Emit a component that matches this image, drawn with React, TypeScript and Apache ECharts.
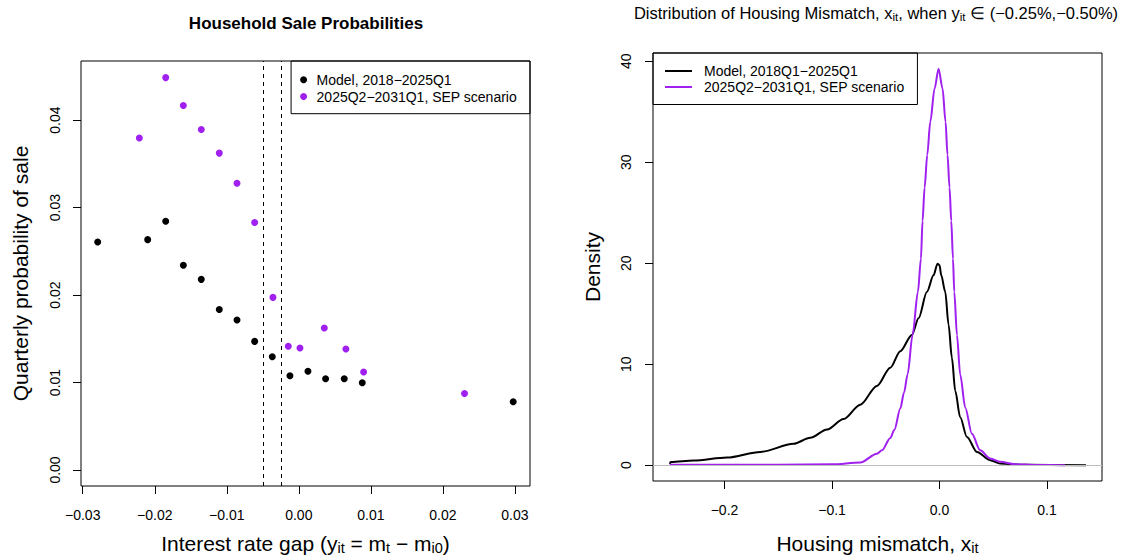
import React, { useEffect, useRef } from "react";
import * as echarts from "echarts";

const FONT = "'Liberation Sans', Arial, Helvetica, sans-serif";
const BLACK = "#000000";
const PURPLE = "#A020F0";
const GREY = "#BEBEBE";

// ---------- Left panel: household sale probabilities ----------
const modelGapX = [-0.02792, -0.02098, -0.01848, -0.01603, -0.01354, -0.01104, -0.00858, -0.00613, -0.00368, -0.00123, 0.00127, 0.00372, 0.00631, 0.00881, 0.02977];
const modelProb = [0.02606, 0.02633, 0.02843, 0.0234, 0.02179, 0.01834, 0.01714, 0.0147, 0.01294, 0.01077, 0.01129, 0.01043, 0.01043, 0.00998, 0.0078];
const sepGapX = [-0.02214, -0.01848, -0.01603, -0.01354, -0.01104, -0.00858, -0.00613, -0.00359, -0.00146, 0.00016, 0.00354, 0.00654, 0.009, 0.02301];
const sepProb = [0.03795, 0.04485, 0.04166, 0.03892, 0.03622, 0.03278, 0.02828, 0.01973, 0.01414, 0.01395, 0.01624, 0.01384, 0.01121, 0.00874];
const gapBounds = [-0.005, -0.0025];

const leftXTicks = [-0.03, -0.02, -0.01, 0, 0.01, 0.02, 0.03];
const leftXLabels = ["\u22120.03", "\u22120.02", "\u22120.01", "0.00", "0.01", "0.02", "0.03"];
const leftYTicks = [0, 0.01, 0.02, 0.03, 0.04];
const leftYLabels = ["0.00", "0.01", "0.02", "0.03", "0.04"];

// ---------- Right panel: density of housing mismatch ----------
const densModelX = [-0.2509, -0.25, -0.2286, -0.1976, -0.1666, -0.1357, -0.1202, -0.1046, -0.0892, -0.0737, -0.0582, -0.0458, -0.0365, -0.0257, -0.0195, -0.0117, -0.0056, -0.0019, 0.0, 0.0016, 0.0053, 0.0084, 0.0115, 0.0146, 0.0192, 0.0255, 0.0348, 0.0471, 0.0564, 0.08, 0.1362];
const densModelY = [0.12, 0.3, 0.45, 0.75, 1.31, 2.12, 2.71, 3.53, 4.57, 5.99, 7.85, 9.65, 11.29, 12.9, 14.55, 17.17, 18.8, 19.95, 19.8, 18.8, 17.17, 13.9, 10.63, 7.36, 4.75, 2.78, 1.31, 0.49, 0.16, 0.03, 0.0];
const densSepX = [-0.2509, -0.15, -0.1, -0.0737, -0.0582, -0.0535, -0.0458, -0.042, -0.0365, -0.033, -0.0297, -0.0251, -0.0201, -0.0173, -0.0158, -0.0139, -0.0114, -0.0086, -0.0046, -0.0009, 0.0028, 0.0056, 0.0074, 0.0093, 0.0109, 0.0125, 0.0137, 0.0162, 0.0192, 0.0239, 0.0301, 0.0378, 0.0471, 0.0564, 0.07, 0.09, 0.1167];
const densSepY = [0.05, 0.05, 0.08, 0.26, 1.14, 1.47, 2.7, 3.5, 5.6, 7.2, 8.99, 12.9, 17.17, 20.44, 24.2, 27.5, 30.75, 34.0, 37.3, 39.25, 37.3, 34.0, 30.75, 27.5, 24.2, 20.44, 17.17, 12.9, 8.99, 5.72, 3.1, 1.47, 0.65, 0.33, 0.1, 0.02, 0.0];

const rightXTicks = [-0.2, -0.1, 0, 0.1];
const rightXLabels = ["\u22120.2", "\u22120.1", "0.0", "0.1"];
const rightYTicks = [0, 10, 20, 30, 40];
const rightYLabels = ["0", "10", "20", "30", "40"];

const NAME_MODEL_L = "Model, 2018\u22122025Q1";
const NAME_MODEL_R = "Model, 2018Q1\u22122025Q1";
const NAME_SEP = "2025Q2\u22122031Q1, SEP scenario";

const LINE_ICON = "path://M0 0H27V2H0Z";

const pairs = (xs: number[], ys: number[]) => xs.map((x, i) => [x, ys[i]]);

const subRich = (size: number) => ({
  s: { fontSize: size, lineHeight: size, verticalAlign: "bottom", fontFamily: FONT, color: "#000" },
});

function makeAxis(
  gridIndex: number,
  min: number,
  max: number,
  ticks: number[],
  labels: string[],
  name: string,
  nameGap: number,
  labelMargin: number,
  isY: boolean
) {
  return {
    type: "value",
    gridIndex,
    min,
    max,
    name,
    nameLocation: "middle",
    nameGap,
    nameTextStyle: {
      fontSize: 21,
      lineHeight: 24,
      color: "#000",
      fontFamily: FONT,
      rich: subRich(14.5),
    },
    axisLine: { show: false, onZero: false },
    axisTick: {
      show: true,
      length: 8,
      customValues: ticks,
      lineStyle: { color: "#000", width: 1 },
    },
    axisLabel: {
      show: true,
      customValues: ticks,
      fontSize: 14,
      color: "#000",
      fontFamily: FONT,
      margin: labelMargin,
      rotate: isY ? 90 : 0,
      formatter: (v: number) => {
        const i = ticks.findIndex((t) => Math.abs(t - v) < 1e-9);
        return i >= 0 ? labels[i] : "";
      },
    },
    splitLine: { show: false },
  };
}

function buildOption() {
  return {
    animation: false,
    backgroundColor: "#ffffff",
    textStyle: { fontFamily: FONT, color: "#000" },
    graphic: [
      {
        type: "text",
        x: 306,
        y: 23,
        style: {
          text: "Household Sale Probabilities",
          fontSize: 17,
          fontWeight: "bold",
          fontFamily: FONT,
          fill: "#000",
          align: "center",
          verticalAlign: "middle",
        },
      },
      {
        type: "text",
        x: 876,
        y: 13,
        style: {
          text: "Distribution of Housing Mismatch, x{s|it}, when y{s|it} \u2208 (\u22120.25%,\u22120.50%)",
          fontSize: 16.5,
          lineHeight: 19,
          fontFamily: FONT,
          fill: "#000",
          align: "center",
          verticalAlign: "middle",
          rich: {
            s: { fontSize: 11.5, lineHeight: 11, verticalAlign: "bottom", fontFamily: FONT, fill: "#000" },
          },
        },
      },
    ],
    grid: [
      { left: 81, top: 61, width: 449, height: 432, show: true, borderColor: "#000", borderWidth: 1, backgroundColor: "transparent" },
      { left: 653, top: 53, width: 449, height: 431.5, show: true, borderColor: "#000", borderWidth: 1, backgroundColor: "transparent" },
    ],
    xAxis: [
      makeAxis(0, -0.03024, 0.0321, leftXTicks, leftXLabels, "Interest rate gap (y{s|it} = m{s|t} \u2212 m{s|i0})", 45, 22, false),
      makeAxis(1, -0.2665, 0.1511, rightXTicks, rightXLabels, "Housing mismatch, x{s|it}", 50, 22, false),
    ],
    yAxis: [
      makeAxis(0, -0.00183, 0.04675, leftYTicks, leftYLabels, "Quarterly probability of sale", 49, 19, true),
      makeAxis(1, -1.57, 40.82, rightYTicks, rightYLabels, "Density", 49, 20, true),
    ],
    legend: [
      {
        right: 593,
        top: 61,
        orient: "vertical",
        selectedMode: false,
        data: [
          { name: NAME_MODEL_L, icon: "circle" },
          { name: NAME_SEP, icon: "circle" },
        ],
        itemWidth: 7,
        itemHeight: 7,
        itemGap: 0.4,
        padding: [10.5, 13, 9, 9],
        borderColor: "#000",
        borderWidth: 1,
        borderRadius: 0,
        textStyle: { fontSize: 14, lineHeight: 16.4, color: "#000", fontFamily: FONT, padding: [0, 0, 0, 4.5] },
      },
      {
        left: 653,
        top: 53,
        orient: "vertical",
        selectedMode: false,
        data: [
          { name: NAME_MODEL_R, icon: LINE_ICON },
          { name: NAME_SEP, icon: LINE_ICON },
        ],
        itemWidth: 27,
        itemHeight: 14,
        itemGap: 0,
        padding: [10, 13, 9.5, 12],
        borderColor: "#000",
        borderWidth: 1,
        borderRadius: 0,
        textStyle: { fontSize: 14, lineHeight: 16, color: "#000", fontFamily: FONT, padding: [0, 0, 0, 7] },
      },
    ],
    series: [
      {
        name: NAME_SEP,
        type: "line",
        xAxisIndex: 1,
        yAxisIndex: 1,
        data: pairs(densSepX, densSepY),
        symbol: "none",
        showSymbol: false,
        smooth: 0.3,
        smoothMonotone: "x",
        z: 4,
        lineStyle: { color: PURPLE, width: 2 },
        itemStyle: { color: PURPLE },
      },
      {
        name: NAME_MODEL_R,
        type: "line",
        xAxisIndex: 1,
        yAxisIndex: 1,
        data: pairs(densModelX, densModelY),
        symbol: "none",
        showSymbol: false,
        smooth: 0.3,
        smoothMonotone: "x",
        z: 3,
        lineStyle: { color: BLACK, width: 2 },
        itemStyle: { color: BLACK },
      },
      {
        name: "zero line",
        type: "line",
        xAxisIndex: 1,
        yAxisIndex: 1,
        data: [],
        z: 1,
        markLine: {
          silent: true,
          precision: 6,
          symbol: ["none", "none"],
          label: { show: false },
          lineStyle: { color: GREY, type: "solid", width: 1 },
          data: [{ yAxis: 0 }],
        },
      },
      {
        name: NAME_MODEL_L,
        type: "scatter",
        xAxisIndex: 0,
        yAxisIndex: 0,
        data: pairs(modelGapX, modelProb),
        symbol: "circle",
        symbolSize: 7,
        itemStyle: { color: BLACK, opacity: 1 },
        z: 3,
        markLine: {
          silent: true,
          precision: 6,
          symbol: ["none", "none"],
          label: { show: false },
          lineStyle: { color: BLACK, type: [4, 4], width: 1 },
          data: gapBounds.map((v) => ({ xAxis: v })),
        },
      },
      {
        name: NAME_SEP,
        type: "scatter",
        xAxisIndex: 0,
        yAxisIndex: 0,
        data: pairs(sepGapX, sepProb),
        symbol: "circle",
        symbolSize: 7,
        itemStyle: { color: PURPLE, opacity: 1 },
        z: 3,
      },
    ],
  };
}

export default function App() {
  const ref = useRef<HTMLDivElement>(null);
  useEffect(() => {
    if (!ref.current) return;
    const chart = echarts.init(ref.current, null, { renderer: "svg" });
    chart.setOption(buildOption() as any);
    return () => chart.dispose();
  }, []);
  return (
    <div
      ref={ref}
      style={{ position: "fixed", left: 0, top: 0, width: 1123, height: 560, background: "#fff" }}
    />
  );
}
